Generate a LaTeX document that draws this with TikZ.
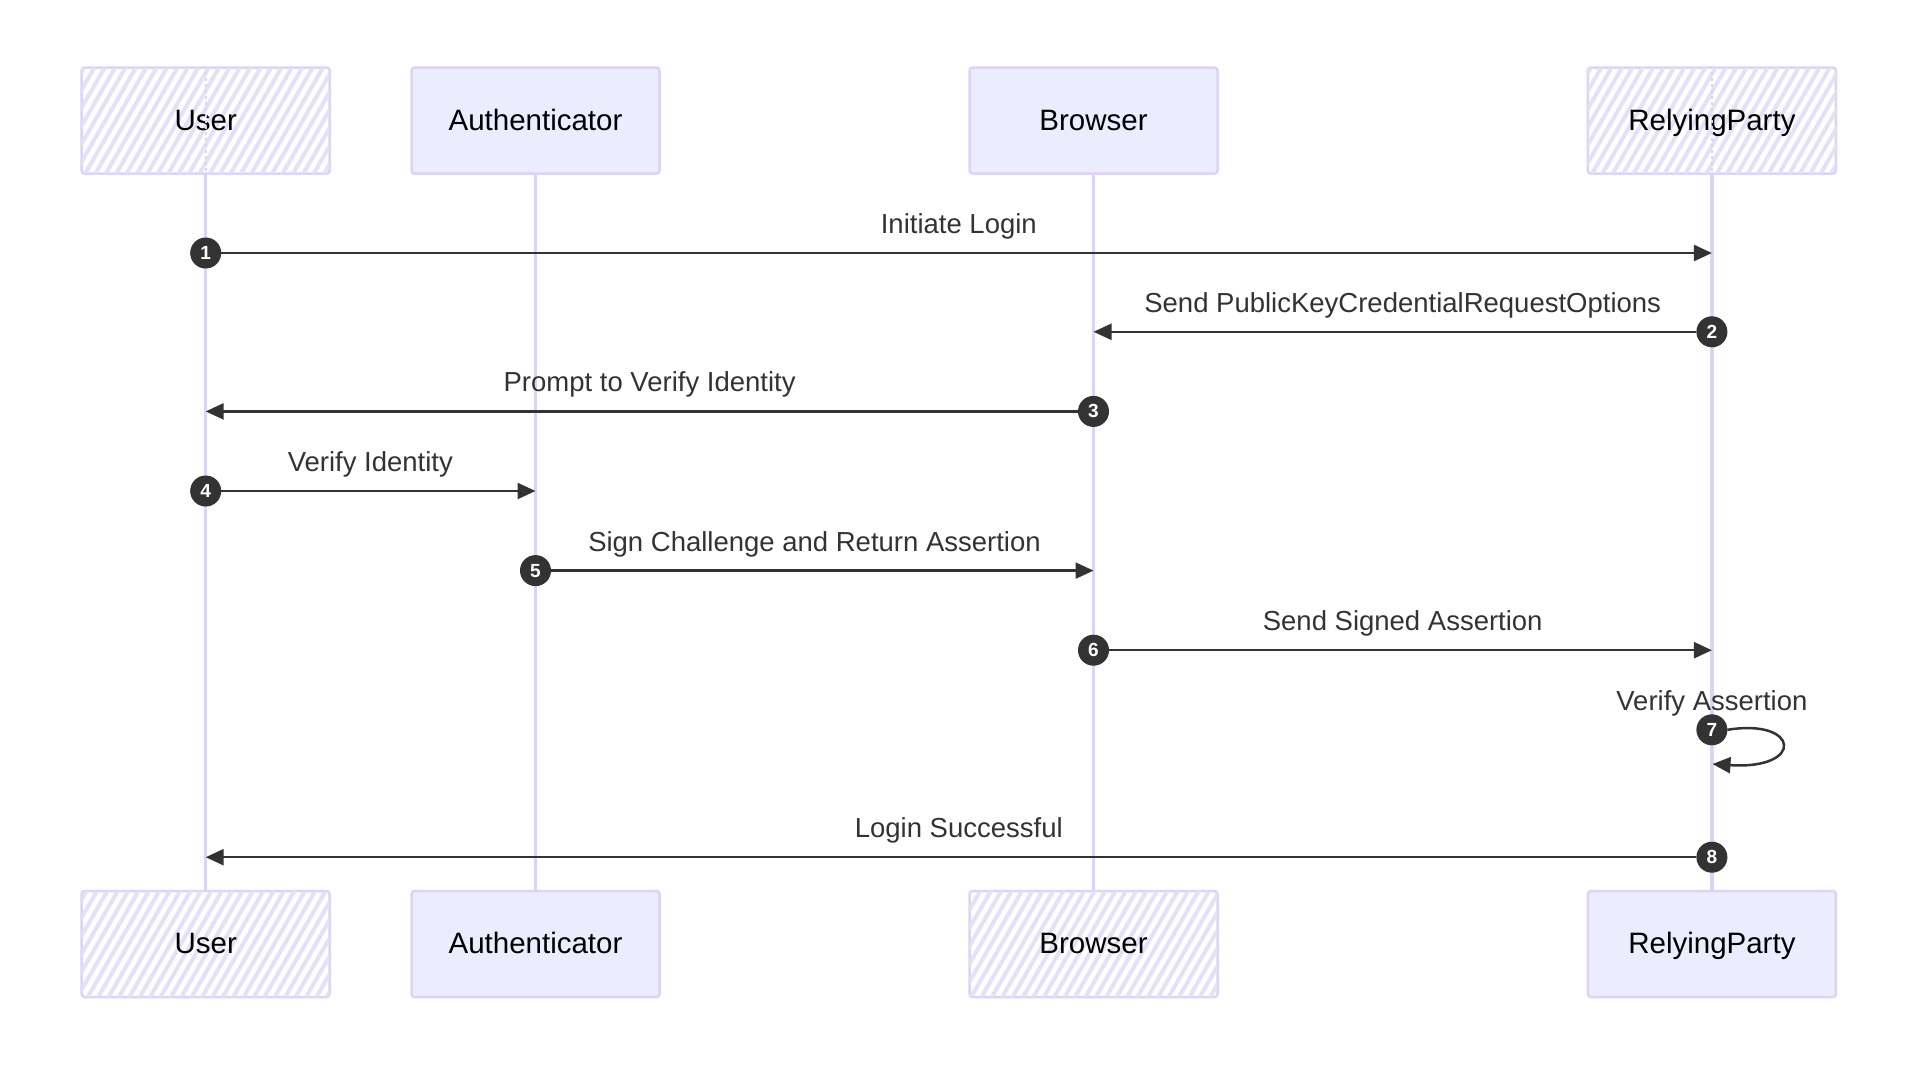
\documentclass[tikz,border=0pt]{standalone}
\usepackage{fontspec}
\setmainfont{Liberation Sans}
\usetikzlibrary{arrows.meta,patterns.meta}
\definecolor{actfill}{HTML}{ECECFF}
\definecolor{actline}{HTML}{DCD3F6}
\definecolor{hatchc}{HTML}{E4E0FA}
\definecolor{ink}{HTML}{333333}
\begin{document}
\begin{tikzpicture}[x=1pt,y=-1pt,
  actor/.style={draw=actline, line width=2.5pt, rounded corners=3pt,
    minimum width=248pt, minimum height=106pt, inner sep=0pt,
    text height=19.5pt, text depth=0pt,
    font=\fontsize{29.5}{35}\selectfont, text=black},
  solidact/.style={actor, fill=actfill},
  hatchact/.style={actor, fill=white,
    postaction={pattern={Lines[angle=60,distance=9pt,line width=4pt]}, pattern color=hatchc}},
  lifeline/.style={draw=actline, line width=3.5pt},
  msg/.style={draw=ink, line width=2.5pt, -{Triangle[length=18pt,width=16pt]}},
  seqnum/.style={circle, fill=ink, draw=ink, line width=1pt, minimum size=30pt, inner sep=0pt,
    text=white, font=\fontsize{19}{20}\selectfont\bfseries},
  lbl/.style={anchor=base, text=ink, font=\fontsize{27.5}{32}\selectfont, inner sep=0pt}
]
\useasboundingbox (0,0) rectangle (1920,1077);
\fill[white] (0,0) rectangle (1920,1077);

% actors
\node[hatchact] (uTop) at (205.7,120.6) {User};
\node[solidact] (aTop) at (535.5,120.6) {Authenticator};
\node[solidact] (bTop) at (1093.5,120.6) {Browser};
\node[hatchact] (rTop) at (1711.9,120.6) {RelyingParty};
\node[hatchact] (uBot) at (205.7,944) {User};
\node[solidact] (aBot) at (535.5,944) {Authenticator};
\node[hatchact] (bBot) at (1093.5,944) {Browser};
\node[solidact] (rBot) at (1711.9,944) {RelyingParty};

\draw[actline, dashed, line width=2pt] (uTop.north) -- (uTop.south);
\draw[actline, dashed, line width=2pt] (rTop.north) -- (rTop.south);

% lifelines
\draw[lifeline] (uTop.south) -- (uBot.north);
\draw[lifeline] (aTop.south) -- (aBot.north);
\draw[lifeline] (bTop.south) -- (bBot.north);
\draw[lifeline] (rTop.south) -- (rBot.north);

% sequence numbers
\node[seqnum] (s1) at (205.7,253) {1};
\node[seqnum] (s2) at (1711.9,331.8) {2};
\node[seqnum] (s3) at (1093.5,411.4) {3};
\node[seqnum] (s4) at (205.7,491) {4};
\node[seqnum] (s5) at (535.5,570.6) {5};
\node[seqnum] (s6) at (1093.5,650.2) {6};
\node[seqnum] (s7) at (1711.9,729.8) {7};
\node[seqnum] (s8) at (1711.9,857.2) {8};

% messages
\draw[msg] (s1) -- (s1 -| rTop);
\draw[msg] (s2) -- (s2 -| bTop);
\draw[msg] (s3) -- (s3 -| uTop);
\draw[msg] (s4) -- (s4 -| aTop);
\draw[msg] (s5) -- (s5 -| bTop);
\draw[msg] (s6) -- (s6 -| rTop);
\coordinate (l7) at (1712.5,764);
\draw[msg] (s7.east) .. controls (1800,718) and (1805,770) .. (l7);
\draw[msg] (s8) -- (s8 -| uTop);

% labels (baselines)
\node[lbl] (m1) at (958.8,233.5) {Initiate Login};
\node[lbl] (m2) at (1402.7,312.3) {Send PublicKeyCredentialRequestOptions};
\node[lbl] (m3) at (649.6,391.9) {Prompt to Verify Identity};
\node[lbl] (m4) at (370.3,471.5) {Verify Identity};
\node[lbl] (m5) at (814.5,551.1) {Sign Challenge and Return Assertion};
\node[lbl] (m6) at (1402.7,630.7) {Send Signed Assertion};
\node[lbl] (m7) at (1711.9,710.3) {Verify Assertion};
\node[lbl] (m8) at (958.8,837.7) {Login Successful};
\end{tikzpicture}
\end{document}
